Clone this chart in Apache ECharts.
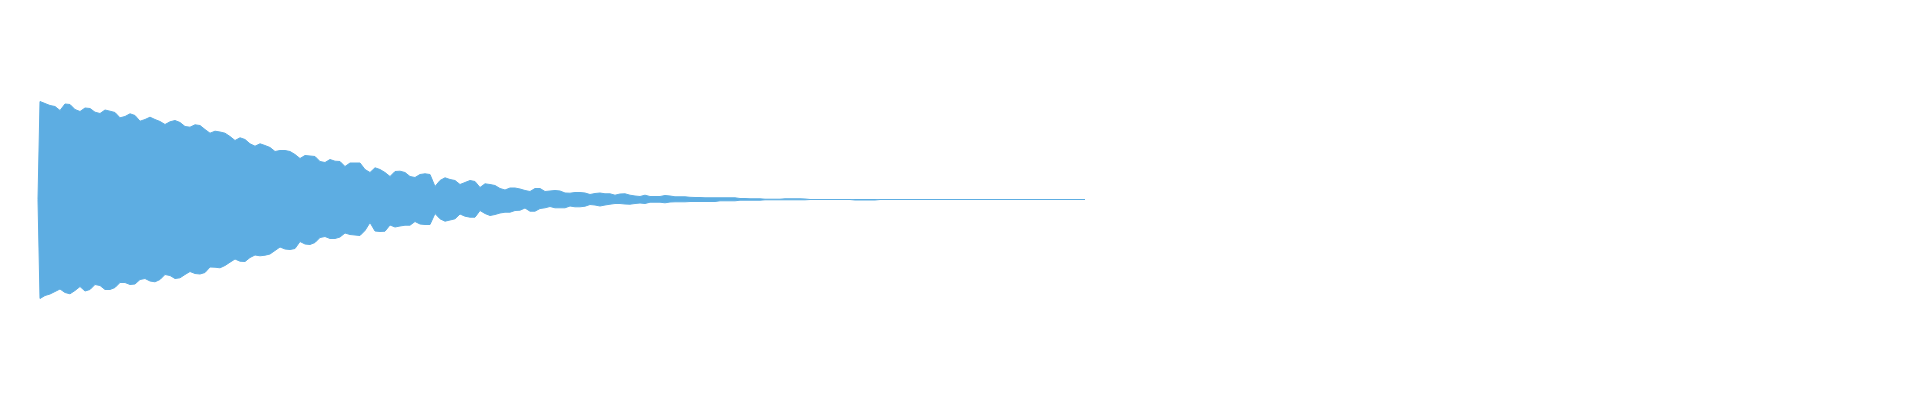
<!DOCTYPE html>
<html>
<head>
<meta charset="utf-8">
<script src="https://cdn.jsdelivr.net/npm/echarts@6/dist/echarts.min.js"></script>
<style>
html,body{margin:0;padding:0;background:#fff;}
#chart{width:1920px;height:400px;}
</style>
</head>
<body>
<div id="chart"></div>
<script>
// Waveform envelope, sampled every 10 ms (amplitude, normalised)
const sampleStep = 0.01;   // seconds between envelope samples
const leadSample = [0.006, 0]; // silent lead-in before the onset

const upperEnvelope = [
 0.98,0.96,0.94,0.93,0.89,0.955,0.95,0.90,0.88,0.915,
 0.91,0.873,0.86,0.895,0.883,0.87,0.817,0.83,0.857,0.84,
 0.783,0.80,0.823,0.80,0.78,0.75,0.777,0.79,0.77,0.73,
 0.723,0.747,0.74,0.70,0.663,0.683,0.675,0.663,0.63,0.59,
 0.617,0.60,0.557,0.533,0.557,0.54,0.52,0.48,0.49,0.49,
 0.48,0.45,0.41,0.44,0.435,0.43,0.38,0.37,0.40,0.383,
 0.38,0.33,0.365,0.365,0.365,0.30,0.27,0.317,0.30,0.27,
 0.23,0.28,0.283,0.27,0.23,0.22,0.25,0.257,0.25,0.13,
 0.19,0.217,0.20,0.19,0.15,0.17,0.19,0.18,0.12,0.157,
 0.15,0.14,0.11,0.095,0.115,0.115,0.105,0.09,0.08,0.11,
 0.11,0.08,0.085,0.09,0.085,0.065,0.063,0.07,0.07,0.065,
 0.05,0.06,0.065,0.057,0.057,0.043,0.055,0.057,0.043,0.035,
 0.03,0.043,0.03,0.03,0.03,0.04,0.035,0.027,0.027,0.027,
 0.022,0.02,0.02,0.017,0.017,0.017,0.017,0.017,0.017,0.017,
 0.01,0.01,0.007,0.007,0.007,0.003,0.003,0.003,0.003,0.007,
 0.007,0.007,0.007,0.005,
 0,0,0,0,0,0,0,0,0,0,0,0,0,0,
 0,0,0,0,0,0,0,0,0,0,0,0,0,0,
 0,0,0,0,0,0,0,0,0,0,0,0,0,0,
 0,0,0,0,0,0,0,0,0,0,0,0,0,0
];

const lowerEnvelope = [
 -0.99,-0.96,-0.945,-0.92,-0.895,-0.93,-0.943,-0.91,-0.87,-0.915,
 -0.90,-0.85,-0.86,-0.90,-0.90,-0.88,-0.83,-0.83,-0.85,-0.845,
 -0.80,-0.79,-0.815,-0.823,-0.80,-0.75,-0.76,-0.79,-0.783,-0.75,
 -0.72,-0.74,-0.745,-0.73,-0.675,-0.677,-0.683,-0.66,-0.627,-0.595,
 -0.617,-0.62,-0.58,-0.555,-0.563,-0.557,-0.545,-0.51,-0.475,-0.495,
 -0.50,-0.49,-0.42,-0.445,-0.45,-0.43,-0.38,-0.37,-0.39,-0.39,
 -0.375,-0.335,-0.35,-0.355,-0.36,-0.31,-0.23,-0.315,-0.32,-0.317,
 -0.255,-0.275,-0.265,-0.257,-0.257,-0.22,-0.245,-0.25,-0.25,-0.14,
 -0.193,-0.217,-0.205,-0.193,-0.145,-0.167,-0.177,-0.177,-0.11,-0.14,
 -0.16,-0.15,-0.135,-0.127,-0.127,-0.11,-0.107,-0.085,-0.117,-0.117,
 -0.09,-0.083,-0.07,-0.083,-0.083,-0.083,-0.065,-0.073,-0.073,-0.067,
 -0.05,-0.055,-0.065,-0.055,-0.047,-0.04,-0.04,-0.045,-0.047,-0.04,
 -0.035,-0.04,-0.027,-0.027,-0.027,-0.033,-0.025,-0.023,-0.023,-0.023,
 -0.02,-0.02,-0.02,-0.02,-0.02,-0.02,-0.013,-0.013,-0.013,-0.013,
 -0.007,-0.007,-0.007,-0.007,-0.007,-0.003,-0.003,-0.003,-0.003,-0.003,
 -0.003,-0.003,-0.003,-0.003,
 0,0,0,0,0,0,0,0,0,
 -0.005,-0.005,-0.005,-0.005,-0.005,
 0,0,0,0,0,0,0,0,0,0,0,0,0,0,
 0,0,0,0,0,0,0,0,0,0,0,0,0,0,
 0,0,0,0,0,0,0,0,0,0,0,0,0,0
];

const waveColor = '#5DADE2';

const times = upperEnvelope.map((_, i) => +((i + 1) * sampleStep).toFixed(3));
const upperData = [leadSample].concat(times.map((t, i) => [t, upperEnvelope[i]]));
const lowerData = [leadSample].concat(times.map((t, i) => [t, lowerEnvelope[i]]));

const chart = echarts.init(document.getElementById('chart'), null, {renderer: 'canvas'});
chart.setOption({
  animation: false,
  backgroundColor: '#ffffff',
  // plot area extends below the canvas so the fill edge stays hidden
  grid: {left: 35, right: 35, top: 74.5, height: 345, containLabel: false, outerBoundsMode: 'none'},
  xAxis: {type: 'value', min: 0, max: 3.7, show: false},
  yAxis: {type: 'value', min: -2.2, max: 1.25, show: false},
  series: [
    {
      // upper envelope, filled down to the bottom of the plot
      type: 'line', name: 'upper', data: upperData,
      symbol: 'none', showSymbol: false,
      lineStyle: {width: 1, color: waveColor}, itemStyle: {color: waveColor},
      areaStyle: {color: waveColor, opacity: 1, origin: 'start'},
      z: 2
    },
    {
      // lower envelope: white below it, blue edge
      type: 'line', name: 'lower', data: lowerData,
      symbol: 'none', showSymbol: false,
      lineStyle: {width: 1, color: waveColor}, itemStyle: {color: waveColor},
      areaStyle: {color: '#ffffff', opacity: 1, origin: 'start'},
      z: 3
    }
  ]
});
</script>
</body>
</html>
